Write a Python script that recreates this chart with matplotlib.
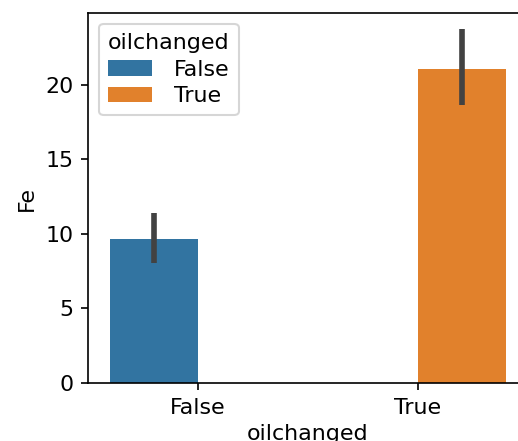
import matplotlib
matplotlib.use("Agg")
import matplotlib.pyplot as plt
from matplotlib.patches import Patch

# mean Fe by oil-change status, with 95% CI bounds
groups = ["False", "True"]
fe_mean = [9.64, 21.05]
ci_low = [8.02, 18.62]
ci_high = [11.37, 23.76]
colors = ["#3274a1", "#e1812c"]

plt.rcParams["font.size"] = 10.6

DPI = 150
fig = plt.figure(figsize=(518 / DPI, 441 / DPI), dpi=DPI)
ax = fig.add_axes([0.170, 0.1315, 0.849, 0.839])

width = 0.4
offsets = [-0.2, 0.2]
for i, g in enumerate(groups):
    x = i + offsets[i]
    ax.bar(x, fe_mean[i], width=width, color=colors[i], label=g)
    ax.plot([x, x], [ci_low[i], ci_high[i]], color="#424242", lw=2.7, solid_capstyle="butt")

ax.set_xticks(range(len(groups)))
ax.set_xticklabels(groups)
ax.set_xlim(-0.5, 1.5)
ax.set_ylim(0, 24.8)
ax.set_yticks([0, 5, 10, 15, 20])
ax.set_xlabel("oilchanged", labelpad=3)
ax.set_ylabel("Fe")

handles = [Patch(facecolor=c, label=g) for c, g in zip(colors, groups)]
ax.legend(handles=handles, title="oilchanged", loc="upper left",
          labelspacing=0.3, handlelength=2.0, handletextpad=1.0)

fig.savefig("out.png", dpi=DPI)
